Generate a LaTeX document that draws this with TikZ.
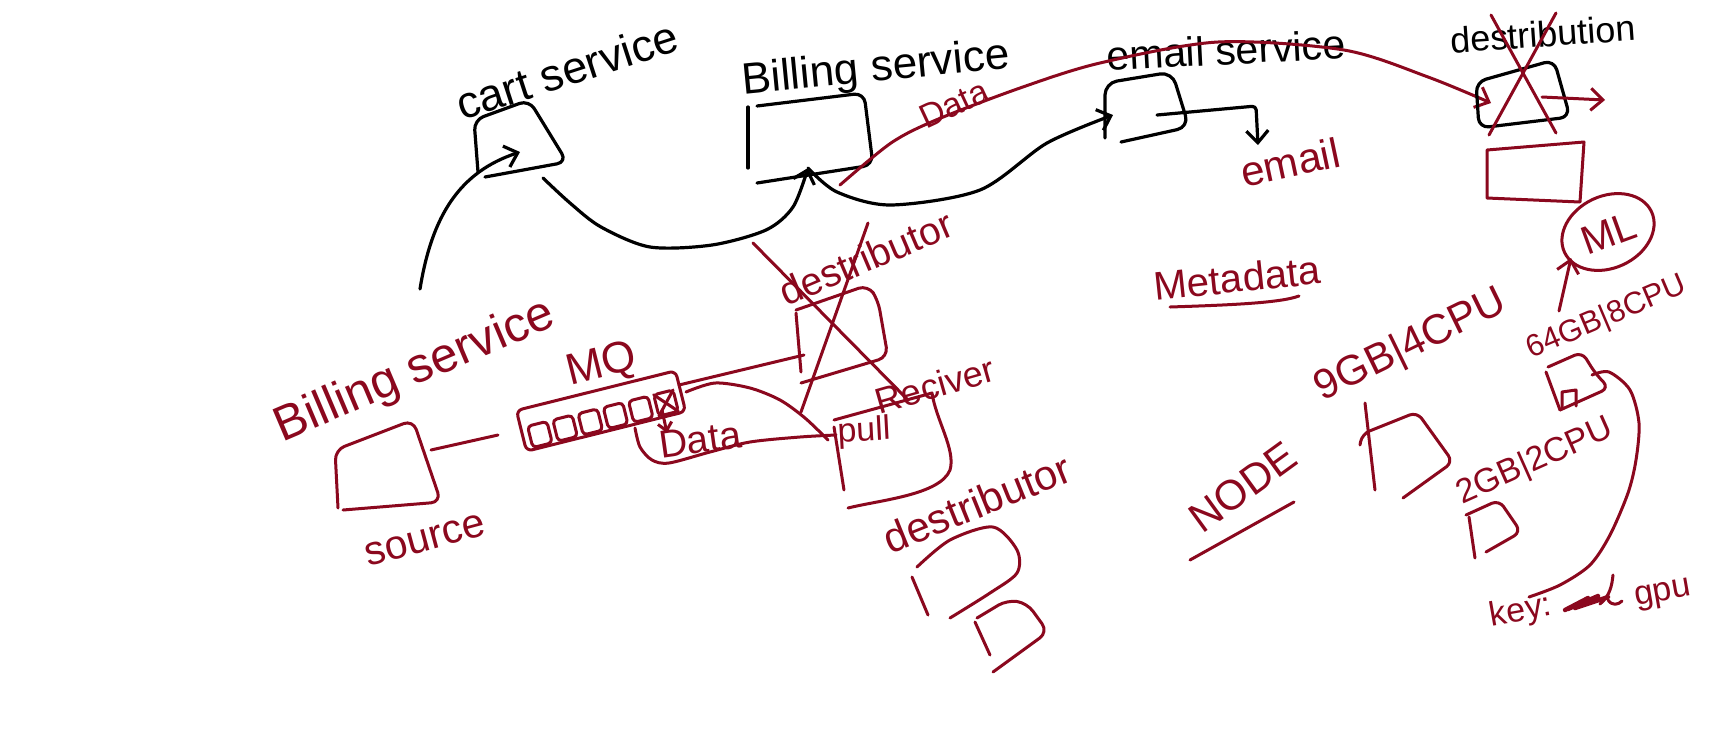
\documentclass[tikz,border=0pt]{standalone}
\usepackage{fontspec}
\setmainfont{Liberation Sans}
\usetikzlibrary{arrows.meta}
\definecolor{mred}{RGB}{139,8,30}
\newcommand\fs[1]{\fontsize{#1}{#1}\selectfont}
\begin{document}
\begin{tikzpicture}[x=0.5pt,y=-0.5pt,line cap=round,line join=round,
  bk/.style={draw=black,line width=1.6pt},
  rd/.style={draw=mred,line width=1.5pt},
  tip/.style={-{Straight Barb[length=6pt,width=11pt]}},
  smalltip/.style={-{Straight Barb[length=4pt,width=7pt]}},
  tb/.style={text=black,inner sep=0pt},
  tr/.style={text=mred,inner sep=0pt}]
\fill[white] (0,0) rectangle (1709,751);
\useasboundingbox (0,0) rectangle (1709,751);

% ---------- top row (black) ----------
\node[tb,rotate=18,font=\fs{22.5}] (cartlbl) at (567,70) {cart service};
\node[tb,rotate=5.5,font=\fs{22}] (billlbl) at (876,70) {Billing service};
\node[tb,rotate=3,font=\fs{20.5}] (emaillbl) at (1226,50) {email service};
\node[tb,rotate=4,font=\fs{18}] (destlbl) at (1543,34) {destribution};

% cart service box
\draw[bk,rounded corners=5pt] (478,172) -- (474,120) -- (529,100) -- (567,162) -- (485,177);
\coordinate (cartIn) at (520,152);
\coordinate (cartOut) at (543,178);
\coordinate (startA) at (420,289);
\draw[bk,tip] (startA) .. controls (432,215) and (460,172) .. (cartIn);

% billing box
\draw[bk] (748,168) -- (748,107);
\draw[bk,rounded corners=5pt] (757,106) -- (864,93) -- (873,165) -- (757,183);
\coordinate (billIn) at (808,168);
\draw[bk,tip] plot[smooth] coordinates {(543,178) (570,203) (601,227) (650,247) (712,245) (766,230) (793,207) (808,168)};
\draw[bk,tip] plot[smooth] coordinates {(808,168) (837,192) (891,205) (980,190) (1047,143) (1113,115)};

% data curve (red)
\draw[rd,tip] plot[smooth] coordinates {(840,185) (891,143) (936,120) (1020,88) (1100,63) (1218,42) (1344,50) (1428,77) (1491,103)};
\node[tr,rotate=25,font=\fs{17}] (datatop) at (954,104) {Data};

% email box
\draw[bk,rounded corners=6pt] (1105,138) -- (1105,83) -- (1172,72) -- (1189,127) -- (1121,142);
\coordinate (emailOut) at (1157,115);
\coordinate (emailDn) at (1258,145);
\draw[bk,tip,rounded corners=2pt] (emailOut) -- (1256,106) -- (emailDn);
\node[tr,rotate=12,font=\fs{21}] (emailred) at (1290,162) {email};

% destribution box
\draw[bk,rounded corners=5pt] (1479,128) -- (1476,82) -- (1554,60) -- (1570,117) -- cycle;
\draw[rd,tip] (1542,97) -- (1605,100);
\draw[rd] (1491,15) -- (1556,133);
\draw[rd] (1556,13) -- (1489,135);
\draw[rd] (1487,150) -- (1584,142) -- (1580,202) -- (1487,198) -- cycle;

% ML
\draw[rd,rotate around={25:(1608,232)}] (1608,232) ellipse [x radius=48,y radius=36];
\node[tr,rotate=20,font=\fs{20}] (ml) at (1609,233) {ML};
\draw[rd,tip] (1559,311) -- (1571,258);

% ---------- left / middle (red) ----------
\node[tr,rotate=23,font=\fs{24.5}] (billred) at (415,372) {Billing service};
\node[tr,rotate=15,font=\fs{20.5}] (source) at (425,540) {source};
\draw[rd,rounded corners=5pt] (338,508) -- (335,450) -- (413,420) -- (441,502) -- (343,510);
\draw[rd] (431,450) -- (498,435);

% MQ
\node[tr,rotate=14,font=\fs{22}] (mq) at (602,366) {MQ};
\begin{scope}[shift={(601,411)},rotate=14]
  \draw[rd,rounded corners=3pt] (-82,-21) rectangle (82,21);
  \foreach \i in {0,...,5}{
    \draw[rd,rounded corners=2pt] ({-75+26*\i},-3) rectangle ({-55+26*\i},19);
  }
  \draw[rd] (55,-3) -- (75,19);
  \draw[rd] (75,-3) -- (55,19);
\end{scope}
\draw[rd,smalltip] (662,410) -- (667,433);
\node[tr,rotate=8,font=\fs{19.5}] (datalow) at (700,440) {Data};
\draw[rd] plot[smooth] coordinates {(635,428) (640,447) (652,460) (669,463) (710,452) (750,442) (800,437) (836,435)};
\draw[rd] plot[smooth] coordinates {(686,392) (715,383) (750,388) (780,400) (805,418) (828,440)};
\draw[rd] (679,385) -- (804,355);

% upper destributor (crossed)
\node[tr,rotate=23,font=\fs{19.5}] (destmid) at (866,258) {destributor};
\draw[rd] (796,313) -- (801,372);
\draw[rd,rounded corners=5pt] (796,310) -- (868,285) -- (878,300) -- (888,357) -- (801,383);
\draw[rd] (753,243) -- (908,400);
\draw[rd] (868,223) -- (801,412);

% receiver
\node[tr,rotate=16,font=\fs{18}] (reciver) at (935,385) {Reciver};
\draw[rd] (834,427) -- (844,490);
\draw[rd] (834,420) -- (932,393) .. controls (936,420) and (956,450) .. (950,470) .. controls (940,495) and (880,500) .. (848,508);
\node[tr,rotate=3,font=\fs{17}] (pull) at (864,432) {pull};

% lower destributor
\node[tr,rotate=22,font=\fs{21}] (destlow) at (977,503) {destributor};
\draw[rd] (912,577) -- (928,615);
\draw[rd] plot[smooth] coordinates {(917,567) (950,540) (993,527) (1017,550) (1017,573) (990,593) (950,618)};
\draw[rd] (975,622) -- (990,655);
\draw[rd,rounded corners=5pt] (977,618) -- (1007,600) -- (1027,603) -- (1048,632) -- (993,672);

% ---------- right (red) ----------
\node[tr,rotate=6,font=\fs{20}] (meta) at (1237,278) {Metadata};
\draw[rd] (1170,307) .. controls (1230,305) and (1280,303) .. (1299,296);
\node[tr,rotate=36,font=\fs{21}] (nodelbl) at (1243,487) {NODE};
\draw[rd] (1190,560) -- (1294,502);

\node[tr,rotate=26,font=\fs{21}] (g9) at (1411,346) {9GB|4CPU};
\draw[rd] (1365,403) -- (1375,490);
\draw[rd,rounded corners=4pt] (1360,445) -- (1362,434) -- (1417,412) -- (1453,462) -- (1403,498);

\node[tr,rotate=23,font=\fs{15.5}] (g64) at (1607,318) {64GB|8CPU};
\draw[rd] (1546,372) -- (1560,410);
\draw[rd,rounded corners=4pt] (1548,367) -- (1582,352) -- (1595,373) -- (1609,388) -- (1560,410);
\draw[rd] (1562,408) -- (1562,392) -- (1576,390) -- (1576,406);
\draw[rd] plot[smooth] coordinates {(1592,375) (1609,372) (1630,390) (1639,423) (1636,460) (1628,493) (1610,535) (1590,565) (1560,585) (1529,597)};

\node[tr,rotate=24,font=\fs{17}] (g2) at (1535,462) {2GB|2CPU};
\draw[rd] (1469,517) -- (1475,558);
\draw[rd,rounded corners=4pt] (1466,515) -- (1499,500) -- (1521,532) -- (1486,552);

\node[tr,rotate=10,font=\fs{17}] (key) at (1521,612) {key:};
\draw[rd,line width=2.2pt] (1565,610) -- (1588,598) -- (1568,609) -- (1598,596) -- (1575,608) -- (1608,597);
\draw[rd] (1600,604) .. controls (1610,596) and (1612,585) .. (1613,575);
\draw[rd] (1608,600) .. controls (1612,606) and (1618,605) .. (1622,601);
\node[tr,rotate=10,font=\fs{17}] (gpu) at (1663,595) {gpu};
\end{tikzpicture}
\end{document}
